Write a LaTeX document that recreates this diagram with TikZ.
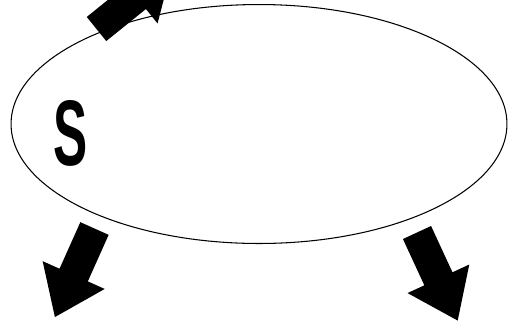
\documentclass[tikz,border=0pt]{standalone}
\usepackage{fontspec}
\setmainfont{Liberation Sans}
\usetikzlibrary{shapes.geometric}

\tikzset{
  region/.style={ellipse, draw, line width=0.6pt, inner sep=0pt,
    minimum width=9.92cm, minimum height=4.78cm},
  bigarrow/.style={fill=black, draw=none}
}
% block arrow: tail centre, angle
\newcommand{\blockarrow}[2]{%
  \fill[bigarrow, shift={(#1)}, rotate=#2]
    (0,-15.5) -- (51,-15.5) -- (51,-34) -- (97,0) -- (51,34) -- (51,15.5) -- (0,15.5) -- cycle;}

\begin{document}
\begin{tikzpicture}[x=0.02cm, y=-0.02cm]
    \useasboundingbox (0,0) rectangle (516,322);
    \clip (0,0) rectangle (516,322);

    % Zbiór
    \node[region] (set) at (259,124) {};
    \node (s) at (71,133.5) {\scalebox{0.55}[1]{\fontsize{53}{60}\selectfont\bfseries S}};

    % Strzałki
    \coordinate (tl) at (96.5,29);
    \coordinate (ll) at (94.5,228.5);
    \coordinate (lr) at (417,232.5);
    \blockarrow{tl}{38.9}
    \blockarrow{ll}{-114.1}
    \blockarrow{lr}{-65.2}
\end{tikzpicture}
\end{document}
